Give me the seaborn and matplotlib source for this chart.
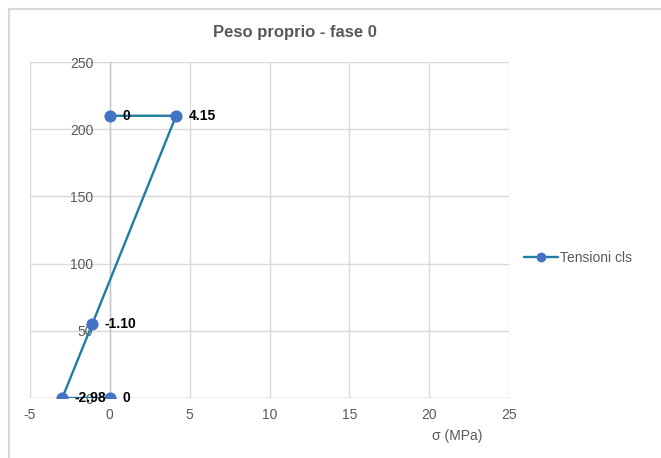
import matplotlib
matplotlib.use("Agg")
import matplotlib.pyplot as plt
from matplotlib.lines import Line2D
import seaborn as sns
import pandas as pd

# Data
sigma = [0.0, -2.98, -1.10, 4.15, 0.0]
height = [0.0, 0.0, 55.0, 210.0, 210.0]
labels = ["0", "-2.98", "-1.10", "4.15", "0"]
series_name = "Tensioni cls"
title = "Peso proprio - fase 0"
xlabel = "σ (MPa)"
xticks = [-5, 0, 5, 10, 15, 20, 25]
yticks = [0, 50, 100, 150, 200, 250]

df = pd.DataFrame({"x": sigma, "y": height, "s": series_name})

sns.set_style("white")
plt.rcParams['font.family'] = ['Liberation Sans', 'DejaVu Sans']
plt.rcParams['axes.unicode_minus'] = False

W, H = 661, 458
fig = plt.figure(figsize=(W / 100, H / 100), dpi=100)
ax = fig.add_axes([30 / W, 1 - 398 / H, (509 - 30) / W, (398 - 62) / H])

line_col = "#1f7ea1"
mark_col = "#4472c4"
text_col = "#595959"
grid_col = "#d9d9d9"

sns.lineplot(data=df, x="x", y="y", sort=False, estimator=None, ax=ax,
             color=line_col, linewidth=1.7, marker="o", markersize=8,
             markerfacecolor=mark_col, markeredgecolor=mark_col, legend=False,
             zorder=3)

ax.set_xlim(-5, 25)
ax.set_ylim(0, 250)
ax.set_xticks(xticks)
ax.set_yticks(yticks)
ax.grid(True, color=grid_col, linewidth=1.0)
ax.set_axisbelow(True)

for side in ["top", "right", "bottom"]:
    ax.spines[side].set_visible(False)
ax.spines["left"].set_position(("data", 0))
ax.spines["left"].set_color("#c8c8c8")
ax.spines["left"].set_linewidth(1.0)
ax.spines["left"].set_zorder(1)
ax.axhline(0, color="#c8c8c8", linewidth=1.0, zorder=1)

ax.tick_params(axis="both", length=0, labelsize=10, labelcolor=text_col)
ax.tick_params(axis="y", pad=12)
ax.tick_params(axis="x", pad=7)

for xv, yv, lab in zip(sigma, height, labels):
    ax.annotate(lab, (xv, yv), xytext=(9, 0), textcoords="offset points",
                ha="left", va="center", fontsize=10, fontweight="bold",
                color="black", zorder=5)

ax.set_xlabel("")
ax.set_ylabel("")
fig.text(457 / W, 1 - 436 / H, xlabel, ha="center", va="center",
         fontsize=10, color=text_col)
fig.text(295 / W, 1 - 33 / H, title, ha="center", va="center",
         fontsize=12, fontweight="bold", color=text_col)

handle = Line2D([0], [0], color=line_col, linewidth=1.7, marker="o",
                markersize=6, markerfacecolor=mark_col, markeredgecolor=mark_col)
fig.legend([handle], [series_name], loc="center left",
           bbox_to_anchor=(518 / W, 1 - 258 / H), frameon=False,
           fontsize=10, labelcolor=text_col, handlelength=2.5,
           handletextpad=0.1, borderaxespad=0)

# outer chart frame (partially visible)
fig.add_artist(Line2D([9 / W, 9 / W], [0, 1 - 9 / H], color="#d9d9d9",
                      linewidth=1.5, transform=fig.transFigure))
fig.add_artist(Line2D([9 / W, 1], [1 - 9 / H, 1 - 9 / H], color="#d9d9d9",
                      linewidth=1.5, transform=fig.transFigure))

fig.savefig("out.png", dpi=100)
